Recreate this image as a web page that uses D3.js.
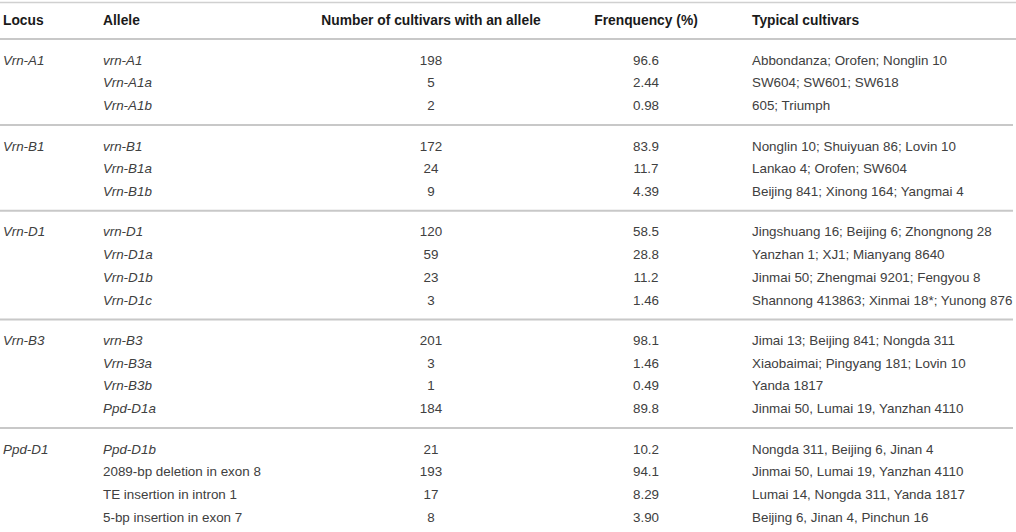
<!DOCTYPE html>
<html>
<head>
<meta charset="utf-8">
<script src="https://cdn.jsdelivr.net/npm/d3@7"></script>
<style>
  html, body { margin: 0; padding: 0; background: #fff; }
  svg text { font-family: "Liberation Sans", Arial, Helvetica, sans-serif; font-size: 13.4px; }
  svg text.head { font-size: 13.8px; }
</style>
</head>
<body>
<svg id="chart" width="1016" height="532"></svg>
<script>
const headers = ["Locus", "Allele", "Number of cultivars with an allele", "Frenquency (%)", "Typical cultivars"];

const loci = ["Vrn-A1", "Vrn-B1", "Vrn-D1", "Vrn-B3", "Ppd-D1"];
const groupSizes = [3, 3, 4, 4, 4];

const alleles = [
    "vrn-A1", "Vrn-A1a", "Vrn-A1b",
    "vrn-B1", "Vrn-B1a", "Vrn-B1b",
    "vrn-D1", "Vrn-D1a", "Vrn-D1b", "Vrn-D1c",
    "vrn-B3", "Vrn-B3a", "Vrn-B3b", "Ppd-D1a",
    "Ppd-D1b", "2089-bp deletion in exon 8", "TE insertion in intron 1", "5-bp insertion in exon 7"
];
const alleleItalic = [
    true, true, true,
    true, true, true,
    true, true, true, true,
    true, true, true, true,
    true, false, false, false
];
const counts = [198, 5, 2, 172, 24, 9, 120, 59, 23, 3, 201, 3, 1, 184, 21, 193, 17, 8];
const freqs = ["96.6", "2.44", "0.98", "83.9", "11.7", "4.39", "58.5", "28.8", "11.2", "1.46",
               "98.1", "1.46", "0.49", "89.8", "10.2", "94.1", "8.29", "3.90"];
const cultivars = [
    "Abbondanza; Orofen; Nonglin 10",
    "SW604; SW601; SW618",
    "605; Triumph",
    "Nonglin 10; Shuiyuan 86; Lovin 10",
    "Lankao 4; Orofen; SW604",
    "Beijing 841; Xinong 164; Yangmai 4",
    "Jingshuang 16; Beijing 6; Zhongnong 28",
    "Yanzhan 1; XJ1; Mianyang 8640",
    "Jinmai 50; Zhengmai 9201; Fengyou 8",
    "Shannong 413863; Xinmai 18*; Yunong 876",
    "Jimai 13; Beijing 841; Nongda 311",
    "Xiaobaimai; Pingyang 181; Lovin 10",
    "Yanda 1817",
    "Jinmai 50, Lumai 19, Yanzhan 4110",
    "Nongda 311, Beijing 6, Jinan 4",
    "Jinmai 50, Lumai 19, Yanzhan 4110",
    "Lumai 14, Nongda 311, Yanda 1817",
    "Beijing 6, Jinan 4, Pinchun 16"
];

const width = 1016;
const rowStep = 22.7;
const padTop = 21;
const padBottom = 19.5;
const headerLine = 39;

const svg = d3.select("#chart");

// column anchors
const colX = [3, 103, 431, 646, 752];
const colAnchor = ["start", "start", "middle", "middle", "start"];

// build rows, one per allele, with its group
let rows = [];
let groupLines = [];
let cursor = headerLine;
let k = 0;
groupSizes.forEach((n, g) => {
    for (let i = 0; i < n; i++) {
        rows.push({
            group: g,
            first: i === 0,
            y: cursor + padTop + i * rowStep,
            allele: alleles[k],
            italic: alleleItalic[k],
            count: counts[k],
            freq: freqs[k],
            cult: cultivars[k]
        });
        k++;
    }
    cursor = cursor + padTop + (n - 1) * rowStep + padBottom;
    if (g < groupSizes.length - 1) groupLines.push(cursor);
});

// rules
svg.append("line").attr("x1", 0).attr("x2", width).attr("y1", 2.5).attr("y2", 2.5)
    .attr("stroke", "#d0d0d0").attr("stroke-width", 1.5);
svg.append("line").attr("x1", 0).attr("x2", width).attr("y1", headerLine).attr("y2", headerLine)
    .attr("stroke", "#c8c8c8").attr("stroke-width", 2);
svg.selectAll(".sep")
    .data(groupLines)
    .join("line")
    .attr("class", "sep")
    .attr("x1", 0).attr("x2", 1013)
    .attr("y1", d => d).attr("y2", d => d)
    .attr("stroke", "#c8c8c8").attr("stroke-width", 2);

// header
svg.selectAll(".head")
    .data(headers)
    .join("text")
    .attr("class", "head")
    .attr("x", (d, i) => colX[i])
    .attr("y", 20)
    .attr("dy", "0.35em")
    .attr("text-anchor", (d, i) => colAnchor[i])
    .attr("font-weight", "bold")
    .attr("fill", "#1a1a1a")
    .text(d => d);

const body = svg.append("g").attr("fill", "#404040");

body.selectAll(".locus")
    .data(rows.filter(d => d.first))
    .join("text")
    .attr("class", "locus")
    .attr("x", colX[0])
    .attr("y", d => d.y)
    .attr("dy", "0.35em")
    .attr("font-style", "italic")
    .text(d => loci[d.group]);

const cells = [
    {key: "allele", col: 1},
    {key: "count", col: 2},
    {key: "freq", col: 3},
    {key: "cult", col: 4}
];

cells.forEach(c => {
    body.selectAll(".c" + c.col)
        .data(rows)
        .join("text")
        .attr("class", "c" + c.col)
        .attr("x", colX[c.col])
        .attr("y", d => d.y)
        .attr("dy", "0.35em")
        .attr("text-anchor", colAnchor[c.col])
        .attr("font-style", d => (c.key === "allele" && d.italic) ? "italic" : "normal")
        .text(d => d[c.key]);
});
</script>
</body>
</html>
